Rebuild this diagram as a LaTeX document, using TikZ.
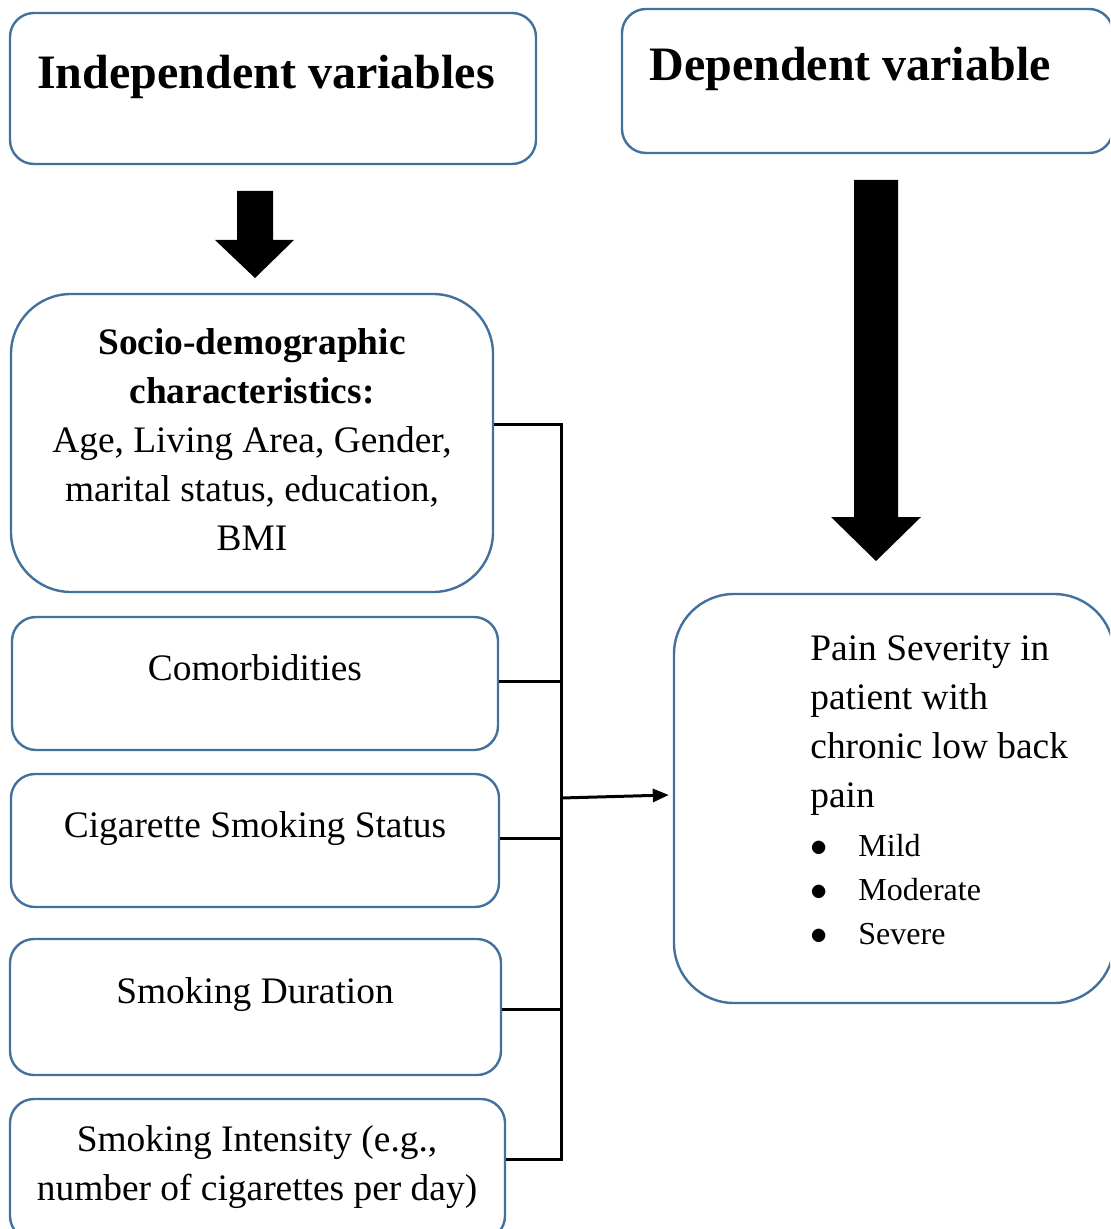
\documentclass[tikz,border=0pt]{standalone}
\usepackage{fontspec}
\setmainfont{Liberation Serif}
\usetikzlibrary{arrows.meta}

\definecolor{boxblue}{RGB}{65,113,156}

\tikzset{
  vbox/.style={draw=boxblue, line width=1.2pt, inner sep=0pt, rounded corners=12pt},
  bigbox/.style={vbox, rounded corners=30pt},
  head/.style={font=\fontsize{24}{29}\selectfont\bfseries, inner sep=0pt},
  body/.style={font=\fontsize{18.7}{24.5}\selectfont, inner sep=0pt},
  small/.style={font=\fontsize{16}{22}\selectfont, inner sep=0pt},
  conn/.style={line width=1.5pt},
}

\begin{document}
\begin{tikzpicture}[x=0.5pt, y=-0.5pt]

\useasboundingbox (0,0) rectangle (1110,1229);
\clip (0,0) rectangle (1110,1229);

% headings
\node[vbox, minimum width=263pt, minimum height=75.5pt] (indep) at (273,88.5) {};
\node[vbox, minimum width=245.5pt, minimum height=72pt] (dep) at (867.5,81) {};
\node[head] (indeptxt) at (266,77) {Independent variables};
\node[head] (deptxt) at (850,69) {Dependent variable};

% block arrows
\fill (237,191) -- (273,191) -- (273,240) -- (294,240) -- (255,278) -- (215,240) -- (237,240) -- cycle;
\fill (854,180) -- (898,180) -- (898,517) -- (921,517) -- (876,561) -- (831,517) -- (854,517) -- cycle;

% independent variables
\node[bigbox, minimum width=241pt, minimum height=149pt] (socio) at (252,443) {};
\node[vbox, minimum width=243pt, minimum height=66.5pt] (comor) at (255,683.5) {};
\node[vbox, minimum width=244pt, minimum height=66.5pt] (cig) at (255,840.5) {};
\node[vbox, minimum width=245.5pt, minimum height=68pt] (dur) at (255.5,1007) {};
\node[vbox, minimum width=247.5pt, minimum height=70.5pt] (inten) at (257.5,1169.5) {};

\node[body, align=center] (sociotxt) at (252,440) {\textbf{Socio-demographic}\\\textbf{characteristics:}\\Age, Living Area, Gender,\\marital status, education,\\BMI};
\node[body] (comortxt) at (255,668) {Comorbidities};
\node[body] (cigtxt) at (255,829) {Cigarette Smoking Status};
\node[body] (durtxt) at (255,995) {Smoking Duration};
\node[body, align=center] (intentxt) at (257,1167) {Smoking Intensity (e.g.,\\number of cigarettes per day)};

% dependent variable
\node[bigbox, minimum width=220pt, minimum height=204.5pt] (pain) at (894,798.5) {};
\node[body, align=left, anchor=north west] (paintxt) at (810,635) {Pain Severity in\\patient with\\chronic low back\\pain};
\node[small, align=left, anchor=north west] (painlist) at (810,834) {\makebox[24pt][l]{$\bullet$}Mild\\\makebox[24pt][l]{$\bullet$}Moderate\\\makebox[24pt][l]{$\bullet$}Severe};

% connectors
\coordinate (b1) at (561,424);
\coordinate (b5) at (561,1159);
\draw[conn] (socio.east |- b1) -- (b1) -- (b5) -- (inten.east |- b5);
\draw[conn] (comor.east |- 0,681) -- (b1 |- 0,681);
\draw[conn] (cig.east |- 0,838) -- (b1 |- 0,838);
\draw[conn] (dur.east |- 0,1009) -- (b1 |- 0,1009);
\draw[conn, -{Triangle[length=8pt,width=6.5pt]}] (b1 |- 0,798) -- ([xshift=-2pt]pain.west |- 0,795);

\end{tikzpicture}
\end{document}
